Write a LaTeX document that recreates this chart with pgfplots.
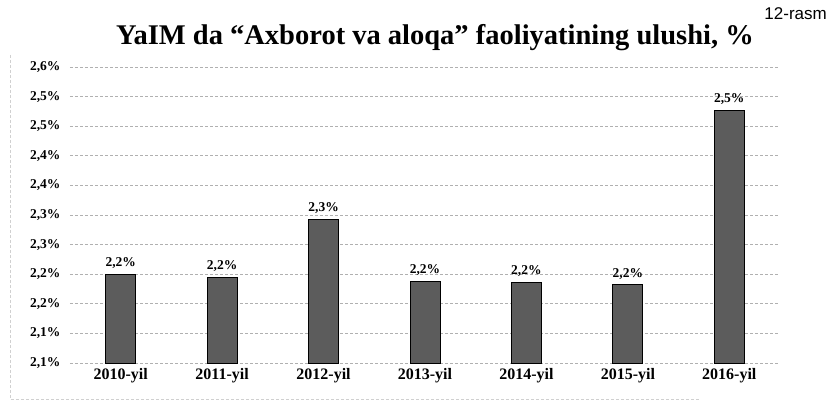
\documentclass[border=0pt]{standalone}
\usepackage{fontspec}
\setmainfont{Liberation Serif}
\newfontfamily\arialfont{Liberation Sans}
\usepackage{pgfplots}
\pgfplotsset{compat=1.18}
\definecolor{barfill}{HTML}{5C5C5C}
\definecolor{gridc}{HTML}{B0B0B0}

\begin{document}
\begin{tikzpicture}
  \useasboundingbox (0,0) rectangle (827pt,411pt);
  % faint chart frame from the scan
  \draw[gridc!60, densely dashed, line width=0.6pt] (10pt,356pt) -- (10pt,12pt) -- (700pt,12pt);
  \begin{axis}[
    at={(70pt,48pt)}, anchor=south west,
    scale only axis, width=710pt, height=296pt,
    xmin=-0.5, xmax=6.5,
    ymin=2.05, ymax=2.55,
    ytick={2.05,2.10,2.15,2.20,2.25,2.30,2.35,2.40,2.45,2.50,2.55},
    yticklabels={{2,1\%},{2,1\%},{2,2\%},{2,2\%},{2,3\%},{2,3\%},{2,4\%},{2,4\%},{2,5\%},{2,5\%},{2,6\%}},
    xtick=data,
    xticklabels={2010-yil,2011-yil,2012-yil,2013-yil,2014-yil,2015-yil,2016-yil},
    ymajorgrids, grid style={gridc, densely dashed, line width=0.7pt},
    axis line style={draw=none},
    major tick length=0pt,
    yticklabel style={font=\fontsize{13.5}{13.5}\selectfont\bfseries, xshift=-6pt},
    xticklabel style={font=\fontsize{16}{16}\selectfont\bfseries, yshift=-2pt},
    /pgf/number format/assume math mode=true,
    nodes near coords={\pgfmathprintnumber[fixed,fixed zerofill,precision=1,use comma]{\pgfplotspointmeta}\%},
    every node near coord/.append style={font=\fontsize{13.5}{13.5}\selectfont\bfseries, yshift=2pt},
    clip=false
  ]
    \addplot[ybar, bar width=30pt, fill=barfill, draw=black, line width=0.8pt]
      coordinates {(0,2.200) (1,2.195) (2,2.293) (3,2.188) (4,2.186) (5,2.182) (6,2.477)};
  \end{axis}
  \node[anchor=base, font=\fontsize{28.5}{28.5}\selectfont\bfseries] at (435pt,366pt)
    {YaIM da “Axborot va aloqa” faoliyatining ulushi, \%};
  \node[anchor=north east, inner sep=0pt, font=\arialfont\fontsize{17}{17}\selectfont] at (827pt,404pt) {12-rasm};
\end{tikzpicture}
\end{document}
